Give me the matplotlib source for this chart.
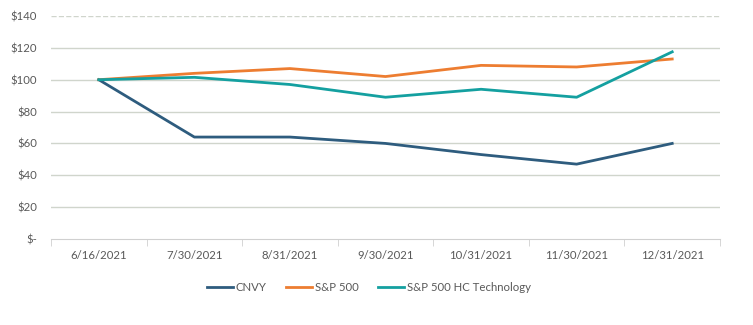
import matplotlib.pyplot as plt
import numpy as np

plt.rcParams['font.family'] = ['Lato', 'DejaVu Sans']

dates = ["6/16/2021", "7/30/2021", "8/31/2021", "9/30/2021", "10/31/2021", "11/30/2021", "12/31/2021"]
cnvy = [100, 64, 64, 60, 53, 47, 60]
sp500 = [100, 104, 107, 102, 109, 108, 113]
hc_tech = [100, 101.5, 97, 89, 94, 89, 117.5]

fig = plt.figure(figsize=(7.53, 3.25), dpi=100)
ax = fig.add_axes([51 / 753, 1 - 239 / 325, 669 / 753, 223 / 325])

x = np.arange(len(dates))
ax.plot(x, cnvy, color="#2E5C7E", lw=2.0, label="CNVY")
ax.plot(x, sp500, color="#ED7D31", lw=2.0, label="S&P 500")
ax.plot(x, hc_tech, color="#14A0A0", lw=2.0, label="S&P 500 HC Technology")

ax.set_xlim(-0.5, len(dates) - 0.5)
ax.set_ylim(0, 140)
yt = np.arange(0, 141, 20)
ax.set_yticks(yt)
ax.set_yticklabels(["$-"] + ["${}".format(v) for v in yt[1:]])
for v in yt[1:]:
    ax.axhline(v, color="#D0D5CC", lw=1, zorder=0, ls="--" if v == 140 else "-")

ax.set_xticks(x)
ax.set_xticklabels(dates)
ax.set_xticks(np.arange(-0.5, len(dates)), minor=True)
ax.tick_params(axis="x", which="major", length=0, pad=8)
ax.tick_params(axis="x", which="minor", length=5, color="#D0D0D0", direction="out")
ax.tick_params(axis="y", length=0, pad=10)
ax.tick_params(labelsize=8.2, labelcolor="#595959")

for s in ["top", "right", "left"]:
    ax.spines[s].set_visible(False)
ax.spines["bottom"].set_color("#D0D0D0")

ax.legend(loc="upper center", bbox_to_anchor=(0.475, -0.145), ncol=3, frameon=False,
          fontsize=8.2, labelcolor="#595959", handlelength=2.3, columnspacing=1.7, handletextpad=0.25)

fig.savefig("out.png", dpi=100)
